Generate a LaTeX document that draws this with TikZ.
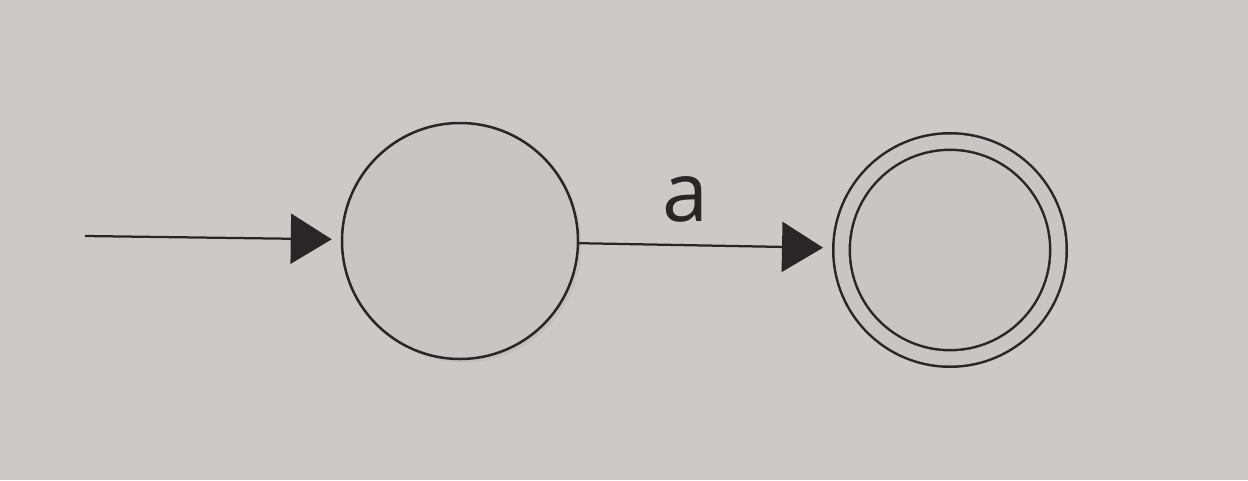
\documentclass[tikz,border=0pt]{standalone}
\usepackage{fontspec}
\setmainfont{Open Sans}
\usetikzlibrary{arrows.meta, shadows}

\definecolor{paper}{RGB}{204,202,199}
\definecolor{statefill}{RGB}{199,198,196}
\definecolor{ink}{RGB}{40,38,38}

\tikzset{
  state/.style={circle, draw=ink, line width=0.05cm, fill=statefill,
    minimum size=4.72cm, inner sep=0pt,
    drop shadow={opacity=0.12, shadow xshift=0.07cm, shadow yshift=-0.07cm}},
  final/.style={state, minimum size=4.34cm, double=statefill,
    double distance=0.28cm, outer sep=0.19cm},
  trans/.style={draw=ink, line width=0.045cm,
    -{Triangle[length=0.82cm, width=1.0cm]}, shorten >=0.18cm}
}

\begin{document}
\begin{tikzpicture}
  %% page background (photo of a printed page)
  \fill[paper] (0,0) rectangle (24.96,9.6);
  \useasboundingbox (0,0) rectangle (24.96,9.6);
  %% states
  \coordinate (init) at (1.70, 4.88);
  \node[state] (q0) at (9.20, 4.78) {};
  \node[final] (q1) at (19.00, 4.60) {};
  %% transitions
  \draw[trans] (init) -- (q0);
  \draw[trans] (q0) -- node[pos=0.42, anchor=south, inner sep=0pt,
    yshift=0.44cm, text=ink, font=\fontsize{47}{56}\selectfont] {a} (q1);
\end{tikzpicture}
\end{document}
